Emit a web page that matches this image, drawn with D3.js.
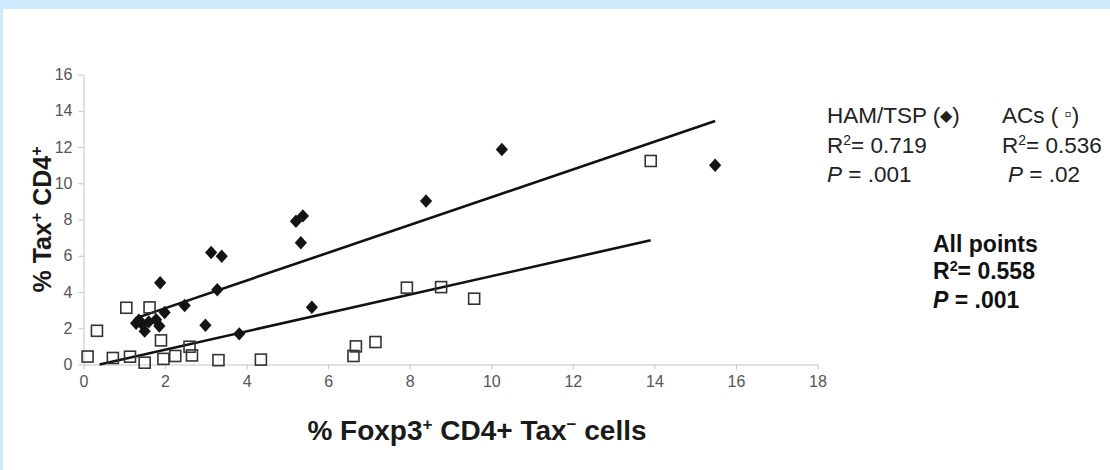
<!DOCTYPE html>
<html>
<head>
<meta charset="utf-8">
<script src="https://cdn.jsdelivr.net/npm/d3@7"></script>
<style>
  html, body { margin: 0; padding: 0; background: #ffffff; }
  svg { display: block; font-family: "Liberation Sans", Arial, Helvetica, sans-serif; }
  .axis path, .axis line { stroke: #c4c4c4; stroke-width: 1; }
  .axis text { fill: #555; font-size: 16px; font-family: "Liberation Sans", Arial, sans-serif; }
</style>
</head>
<body>
<svg id="chart" width="1110" height="470"></svg>
<script>
// HAM/TSP patients (filled diamonds)
const hamX = [1.29, 1.36, 1.45, 1.50, 1.60, 1.78, 1.86, 1.88, 1.99, 2.48, 2.99, 3.13, 3.28, 3.39, 3.82, 5.21, 5.33, 5.38, 5.60, 8.40, 10.26, 15.49];
const hamY = [2.28, 2.45, 2.20, 1.84, 2.35, 2.47, 2.12, 4.51, 2.87, 3.26, 2.17, 6.18, 4.12, 5.97, 1.69, 7.90, 6.72, 8.20, 3.16, 9.02, 11.86, 10.99];

// Asymptomatic carriers (open squares)
const acsX = [0.10, 0.33, 0.72, 1.05, 1.14, 1.50, 1.62, 1.90, 1.96, 2.25, 2.60, 2.66, 3.31, 4.35, 6.62, 6.68, 7.16, 7.93, 8.77, 9.58, 13.91];
const acsY = [0.44, 1.86, 0.36, 3.13, 0.43, 0.10, 3.15, 1.33, 0.31, 0.47, 0.98, 0.50, 0.24, 0.27, 0.47, 1.00, 1.24, 4.24, 4.27, 3.63, 11.23];

// Linear trend lines: [slope, intercept]
const hamFit = [0.766, 1.57];
const acsFit = [0.507, -0.20];

// Axis ticks
const xTicks = [0, 2, 4, 6, 8, 10, 12, 14, 16, 18];
const yTicks = [0, 2, 4, 6, 8, 10, 12, 14, 16];

const svg = d3.select("#chart");
const W = 1110, H = 470;

// page frame
svg.append("rect").attr("width", W).attr("height", H).attr("fill", "#cdeafd");
svg.append("rect").attr("x", 3).attr("y", 9).attr("width", W - 3).attr("height", H - 9).attr("fill", "#ffffff");

const x = d3.scaleLinear().domain([0, 18]).range([83.5, 817.5]);
const y = d3.scaleLinear().domain([0, 16]).range([364.5, 74.5]);

svg.append("g").attr("class", "axis")
  .attr("transform", `translate(0,${y(0)})`)
  .call(d3.axisBottom(x).tickValues(xTicks).tickSize(5).tickPadding(6).tickSizeOuter(0));

svg.append("g").attr("class", "axis")
  .attr("transform", `translate(${x(0)},0)`)
  .call(d3.axisLeft(y).tickValues(yTicks).tickSize(5).tickPadding(6).tickSizeOuter(0));

// trend lines, from the smallest to largest x of each group, kept above y = 0
function fitLine(xs, fit) {
  const [m, b] = fit;
  let x0 = d3.min(xs);
  const x1 = d3.max(xs);
  if (m * x0 + b < 0) x0 = -b / m;
  return [[x0, m * x0 + b], [x1, m * x1 + b]];
}
const line = d3.line().x(d => x(d[0])).y(d => y(d[1]));
[[hamX, hamFit], [acsX, acsFit]].forEach(([xs, fit]) => {
  svg.append("path")
    .attr("d", line(fitLine(xs, fit)))
    .attr("fill", "none")
    .attr("stroke", "#111")
    .attr("stroke-width", 2.6);
});

// open squares
const acs = acsX.map((v, i) => [v, acsY[i]]);
svg.append("g").selectAll("rect").data(acs).join("rect")
  .attr("x", d => x(d[0]) - 5.5)
  .attr("y", d => y(d[1]) - 5.5)
  .attr("width", 11).attr("height", 11)
  .attr("fill", "none")
  .attr("stroke", "#333")
  .attr("stroke-width", 1.6);

// filled diamonds
const ham = hamX.map((v, i) => [v, hamY[i]]);
const diamond = d3.symbol().type(d3.symbolDiamond2).size(95);
svg.append("g").selectAll("path").data(ham).join("path")
  .attr("d", diamond)
  .attr("transform", d => `translate(${x(d[0])},${y(d[1])}) scale(1,1.1)`)
  .attr("fill", "#141414");

// axis titles
const yt = svg.append("text")
  .attr("transform", `translate(51,${(y(0) + y(16)) / 2}) rotate(-90)`)
  .attr("text-anchor", "middle")
  .attr("font-size", 25).attr("font-weight", "bold").attr("fill", "#1a1a1a");
yt.append("tspan").text("% Tax");
yt.append("tspan").attr("font-size", 16).attr("dy", -9).text("+");
yt.append("tspan").attr("dy", 9).text(" CD4");
yt.append("tspan").attr("font-size", 16).attr("dy", -9).text("+");

const xt = svg.append("text")
  .attr("x", 477).attr("y", 440)
  .attr("text-anchor", "middle")
  .attr("font-size", 28).attr("font-weight", "bold").attr("fill", "#1a1a1a");
xt.append("tspan").text("% Foxp3");
xt.append("tspan").attr("font-size", 17).attr("dy", -10).text("+");
xt.append("tspan").attr("dy", 10).text(" CD4+ Tax");
xt.append("tspan").attr("font-size", 17).attr("dy", -10).text("\u2212");
xt.append("tspan").attr("dy", 10).text(" cells");

// statistics block
function rLine(sel, value) {
  sel.append("tspan").text("R");
  sel.append("tspan").attr("font-size", "0.62em").attr("dy", "-0.55em").text("2");
  sel.append("tspan").attr("dy", "0.35em").text("= " + value);
}
function pLine(sel, value) {
  sel.append("tspan").attr("font-style", "italic").text("P");
  sel.append("tspan").text(" = " + value);
}
const stats = svg.append("g").attr("font-size", 22.5).attr("fill", "#222");

const h1 = stats.append("text").attr("x", 827).attr("y", 123);
h1.append("tspan").text("HAM/TSP (");
h1.append("tspan").attr("font-size", "0.7em").attr("dy", "-0.1em").text("\u25C6");
h1.append("tspan").attr("dy", "0.07em").text(")");
rLine(stats.append("text").attr("x", 827).attr("y", 153), "0.719");
pLine(stats.append("text").attr("x", 827).attr("y", 182), ".001");

const h2 = stats.append("text").attr("x", 1002).attr("y", 123);
h2.append("tspan").text("ACs ( ");
h2.append("tspan").attr("font-size", "0.9em").attr("dy", "-0.1em").text("\u25AB");
h2.append("tspan").attr("dy", "0.09em").text(")");
rLine(stats.append("text").attr("x", 1002).attr("y", 153), "0.536");
pLine(stats.append("text").attr("x", 1008).attr("y", 182), ".02");

const all = stats.append("g").attr("font-weight", "bold").attr("font-size", 23).attr("fill", "#111");
all.append("text").attr("x", 933).attr("y", 252).text("All points");
rLine(all.append("text").attr("x", 933).attr("y", 279), "0.558");
pLine(all.append("text").attr("x", 933).attr("y", 308), ".001");
</script>
</body>
</html>
